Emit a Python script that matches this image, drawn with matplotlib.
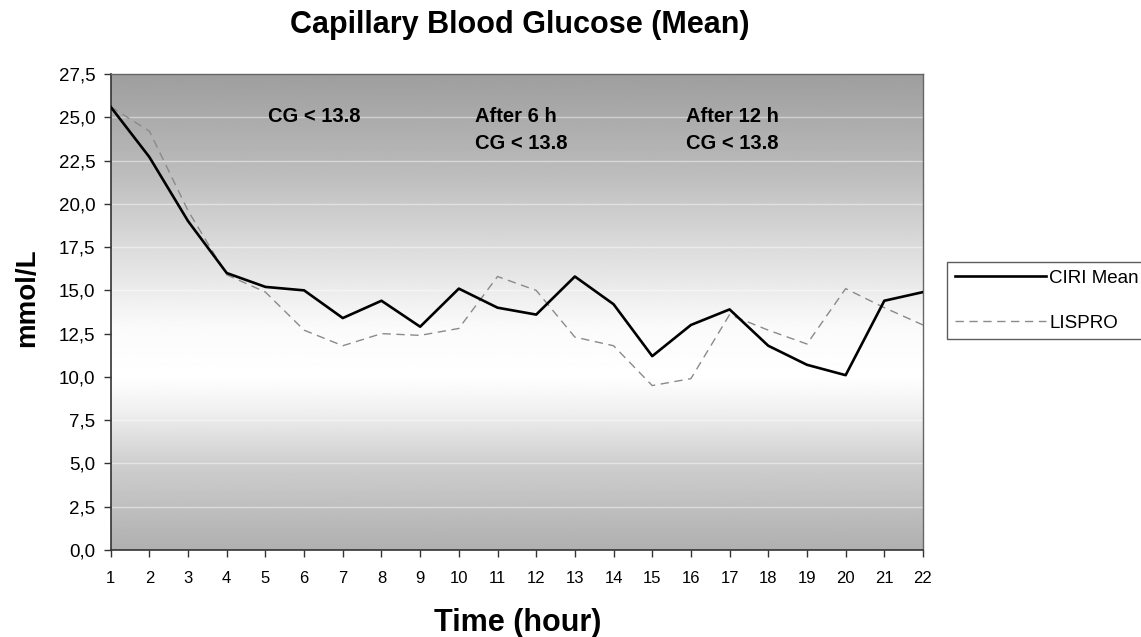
import numpy as np
import matplotlib
matplotlib.use("Agg")
import matplotlib.pyplot as plt

plt.rcParams['font.family'] = ['Liberation Sans', 'DejaVu Sans']

hours = list(range(1, 23))
ciri_mean = [25.6, 22.7, 19.0, 16.0, 15.2, 15.0, 13.4, 14.4, 12.9, 15.1, 14.0,
             13.6, 15.8, 14.2, 11.2, 13.0, 13.9, 11.8, 10.7, 10.1, 14.4, 14.9]
lispro = [25.6, 24.2, 19.6, 15.9, 14.9, 12.7, 11.8, 12.5, 12.4, 12.8, 15.8,
          15.0, 12.3, 11.8, 9.5, 9.9, 13.6, 12.7, 11.9, 15.1, 14.0, 13.0]
yticks = [0, 2.5, 5, 7.5, 10, 12.5, 15, 17.5, 20, 22.5, 25, 27.5]
ytick_labels = ["0,0", "2,5", "5,0", "7,5", "10,0", "12,5", "15,0", "17,5",
                "20,0", "22,5", "25,0", "27,5"]

W, H = 1141, 637
fig = plt.figure(figsize=(W / 100, H / 100), dpi=100)
ax = fig.add_axes([110.7 / W, 1 - 550 / H, 812.3 / W, 476 / H])

# gradient background
ys = np.linspace(0, 27.5, 400)
prof_y = [0, 5, 8, 10, 13, 17.5, 22.5, 27.5]
prof_v = [0.69, 0.81, 0.94, 1.0, 0.98, 0.86, 0.72, 0.62]
vals = np.interp(ys, prof_y, prof_v)
img = np.repeat(vals[:, None], 2, axis=1)
ax.imshow(img, cmap='gray', vmin=0, vmax=1, aspect='auto', origin='lower',
          extent=[1, 22, 0, 27.5], zorder=0, interpolation='bilinear')

for yv in yticks[1:-1]:
    ax.axhline(yv, color='white', lw=1.0, alpha=0.45, zorder=1)

ax.plot(hours, ciri_mean, color='black', lw=1.9, label='CIRI Mean', zorder=3)
ax.plot(hours, lispro, color='#8a8a8a', lw=1.0, ls=(0, (6, 4)), label='LISPRO', zorder=2)

ax.set_xlim(1, 22)
ax.set_ylim(0, 27.5)
ax.set_xticks(hours)
ax.set_xticklabels([str(h) for h in hours], fontsize=12)
ax.set_yticks(yticks)
ax.set_yticklabels(ytick_labels, fontsize=13.5)
ax.tick_params(axis='both', direction='out', length=5, width=1, color='#333333')
ax.tick_params(axis='x', pad=10)
ax.tick_params(axis='y', pad=6)
for s in ['left', 'bottom']:
    ax.spines[s].set_color('#333333')
    ax.spines[s].set_linewidth(1.2)
for s in ['top', 'right']:
    ax.spines[s].set_color('#666666')
    ax.spines[s].set_linewidth(1.0)

ann_kw = dict(fontsize=14.5, fontweight='bold', va='baseline', ha='left')
ax.text(5.07, 24.73, "CG < 13.8", **ann_kw)
ax.text(10.42, 24.73, "After 6 h", **ann_kw)
ax.text(10.42, 23.17, "CG < 13.8", **ann_kw)
ax.text(15.87, 24.73, "After 12 h", **ann_kw)
ax.text(15.87, 23.17, "CG < 13.8", **ann_kw)

fig.text(520 / W, 1 - 33 / H, "Capillary Blood Glucose (Mean)", fontsize=22,
         fontweight='bold', ha='center', va='baseline')
fig.text(518 / W, 1 - 631 / H, "Time (hour)", fontsize=22,
         fontweight='bold', ha='center', va='baseline')
fig.text(27 / W, 1 - 298 / H, "mmol/L", fontsize=20, fontweight='bold',
         ha='center', va='center', rotation=90)

leg = ax.legend(loc='upper left', bbox_to_anchor=(947 / W, 1 - 262 / H),
                bbox_transform=fig.transFigure, frameon=True, fancybox=False,
                edgecolor='#333333', fontsize=13.5, handlelength=4.9,
                borderpad=0.4, labelspacing=1.5, handletextpad=0.15,
                borderaxespad=0)
leg.get_frame().set_linewidth(1.0)

fig.savefig("out.png", dpi=100)
